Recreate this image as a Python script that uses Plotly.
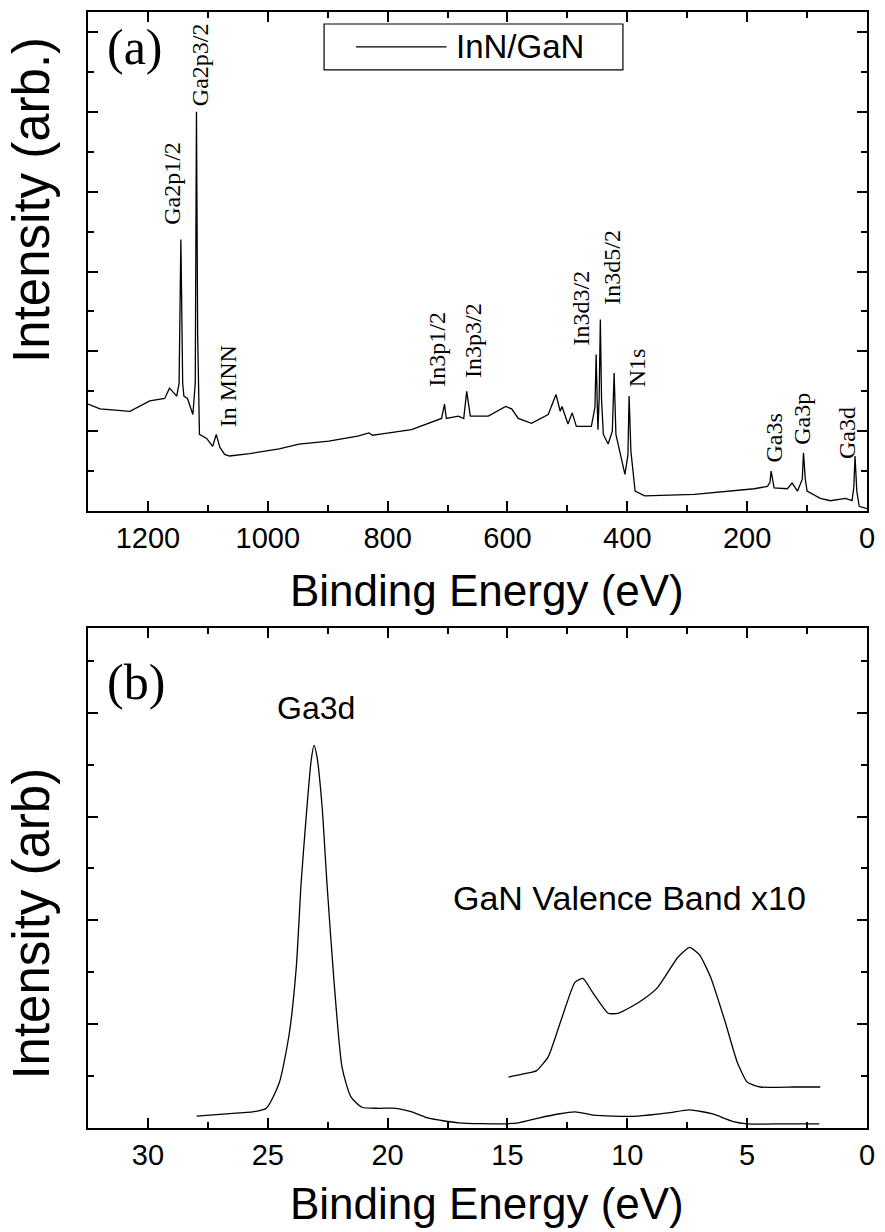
import plotly.graph_objects as go

# ---------------- data: panel (a) survey spectrum ----------------
survey_energy = [1300, 1280, 1230, 1197, 1172, 1164, 1152, 1148, 1145, 1142, 1140, 1134, 1125, 1121,
                 1119, 1117, 1114, 1102, 1092, 1086, 1080, 1072, 1064, 1030, 981, 948, 898, 850, 831,
                 825, 815, 760, 710, 705, 702, 682, 673, 668, 662, 632, 603, 593, 582, 560, 532,
                 519, 512, 509, 499, 492, 485, 460, 454, 452, 450, 449, 447, 445, 443, 440, 432,
                 425, 422, 419, 404, 399, 397, 394, 387, 371, 288, 188, 166, 162, 160, 157, 155,
                 133, 125, 116, 108, 106, 103, 100, 78, 61, 36, 25, 22, 20, 17, 13, 3, 0]
survey_intensity = [1.34, 1.28, 1.25, 1.38, 1.41, 1.54, 1.44, 1.60, 3.40, 1.60, 1.44, 1.41, 1.21, 1.60,
                    5.00, 2.20, 0.96, 0.91, 0.81, 0.96, 0.80, 0.71, 0.69, 0.72, 0.78, 0.84, 0.875, 0.94, 0.98,
                    0.95, 0.96, 1.02, 1.16, 1.34, 1.16, 1.19, 1.16, 1.50, 1.19, 1.19, 1.31, 1.28, 1.16, 1.10, 1.21,
                    1.46, 1.25, 1.31, 1.09, 1.23, 1.06, 1.06, 1.30, 1.96, 1.30, 1.02, 1.40, 2.40, 1.40, 0.96, 0.84,
                    1.00, 1.73, 0.96, 0.46, 0.70, 1.44, 0.75, 0.25, 0.19, 0.21, 0.28, 0.31, 0.36, 0.50, 0.36, 0.29,
                    0.28, 0.35, 0.25, 0.40, 0.73, 0.40, 0.25, 0.16, 0.13, 0.16, 0.13, 0.30, 0.69, 0.25, 0.06, 0.04, 0.03]

# ---------------- data: panel (b) Ga3d + valence band ----------------
ga3d_energy = [27.97, 26.18, 25.64, 25.06, 24.52, 24.10, 23.81, 23.61, 23.40, 23.19, 23.07, 22.94,
               22.73, 22.53, 22.23, 21.90, 21.53, 21.07, 20.36, 19.66, 18.99, 18.29, 17.04, 15.17,
               14.54, 13.71, 12.88, 12.18, 11.43, 10.60, 9.56, 8.31, 7.40, 6.44, 5.61, 4.99, 3.32, 1.99]
ga3d_intensity = [0.23, 0.29, 0.31, 0.38, 0.87, 1.83, 3.10, 4.71, 5.98, 7.08, 7.37, 7.13,
                  6.17, 4.71, 2.79, 1.17, 0.60, 0.40, 0.38, 0.38, 0.31, 0.19, 0.10, 0.08,
                  0.10, 0.19, 0.27, 0.31, 0.25, 0.23, 0.23, 0.29, 0.35, 0.27, 0.13, 0.08, 0.08, 0.08]

vb_energy = [14.96, 14.13, 13.80, 13.30, 12.76, 12.18, 11.84, 11.43, 10.80, 10.39, 9.85, 9.27,
             8.73, 7.89, 7.40, 6.98, 6.52, 5.94, 5.40, 4.99, 4.45, 3.03, 1.95]
vb_intensity = [0.98, 1.06, 1.10, 1.37, 2.08, 2.81, 2.88, 2.60, 2.21, 2.21, 2.33, 2.50,
                2.71, 3.29, 3.48, 3.33, 2.90, 2.08, 1.25, 0.88, 0.79, 0.79, 0.79]

# ---------------- peak labels (panel a) ----------------
peak_names = ["Ga2p1/2", "Ga2p3/2", "In MNN", "In3p1/2", "In3p3/2", "In3d3/2",
              "In3d5/2", "N1s", "Ga3s", "Ga3p", "Ga3d"]
peak_label_x = [1160, 1114, 1067, 718, 658, 477, 427, 384, 155, 108, 33]
peak_label_y = [4.11, 5.59, 1.56, 2.03, 2.14, 2.54, 3.05, 1.80, 0.91, 1.16, 0.98]

top_ticks = [1200, 1000, 800, 600, 400, 200, 0]
bot_ticks = [30, 25, 20, 15, 10, 5, 0]

SANS = "Liberation Sans, Arial, sans-serif"
SERIF = "Liberation Serif, Times New Roman, serif"

W, H = 885, 1232
L, R, T, B = 88, 15, 10, 104
PW, PH = W - L - R, H - T - B


def px(xpix):
    return (xpix - L) / PW


def py(ypix):
    return (H - B - ypix) / PH


fig = go.Figure()
fig.add_trace(go.Scatter(x=survey_energy, y=survey_intensity, mode="lines",
                         line=dict(color="black", width=1.3), name="InN/GaN",
                         xaxis="x", yaxis="y", showlegend=False))
fig.add_trace(go.Scatter(x=ga3d_energy, y=ga3d_intensity, mode="lines",
                         line=dict(color="black", width=1.3, shape="spline", smoothing=0.6),
                         name="Ga3d", xaxis="x2", yaxis="y2", showlegend=False))
fig.add_trace(go.Scatter(x=vb_energy, y=vb_intensity, mode="lines",
                         line=dict(color="black", width=1.3, shape="spline", smoothing=0.5),
                         name="GaN Valence Band x10",
                         xaxis="x2", yaxis="y2", showlegend=False))

axis_common = dict(showline=True, linewidth=2, linecolor="black", mirror="allticks",
                   ticks="inside", ticklen=10, tickwidth=2, tickcolor="black",
                   showgrid=False, zeroline=False)
minor_common = dict(ticks="inside", ticklen=6, tickwidth=2, tickcolor="black", showgrid=False)

fig.update_layout(
    width=W, height=H,
    margin=dict(l=L, r=R, t=T, b=B),
    paper_bgcolor="white", plot_bgcolor="white",
    xaxis=dict(domain=[0, 1], range=[1300, 0], anchor="y", tickvals=top_ticks,
               ticktext=[str(v) for v in top_ticks], minor=dict(dtick=100, tick0=0, **minor_common),
               tickfont=dict(family=SANS, size=29, color="black"), ticklabelstandoff=0,
               **axis_common),
    yaxis=dict(domain=[py(510), 1], range=[0, 6.25], anchor="x", dtick=1, tick0=0,
               showticklabels=False, minor=dict(dtick=0.5, tick0=0, **minor_common),
               **axis_common),
    xaxis2=dict(domain=[0, 1], range=[32.5, 0], anchor="y2", tickvals=bot_ticks,
                ticktext=[str(v) for v in bot_ticks], minor=dict(dtick=2.5, tick0=0, **minor_common),
                tickfont=dict(family=SANS, size=29, color="black"), ticklabelstandoff=0,
                **axis_common),
    yaxis2=dict(domain=[0, py(627)], range=[0, 501 / 52], anchor="x2", dtick=2, tick0=0,
                showticklabels=False, minor=dict(dtick=1, tick0=0, **minor_common),
                **axis_common),
)


def paper_text(xp, yp, text, family, size, angle=0, xanchor="center", yanchor="middle"):
    return dict(x=px(xp), y=py(yp), xref="paper", yref="paper", text=text, showarrow=False,
                textangle=angle, xanchor=xanchor, yanchor=yanchor,
                font=dict(family=family, size=size, color="black"))


ann = []
for name, x, y in zip(peak_names, peak_label_x, peak_label_y):
    ann.append(dict(x=x, y=y, xref="x", yref="y", text=name, showarrow=False, textangle=-90,
                    font=dict(family=SERIF, size=24, color="black"),
                    xanchor="center", yanchor="middle"))

ann += [
    dict(x=22.98, y=8.10, xref="x2", yref="y2", text="Ga3d", showarrow=False,
         xanchor="center", yanchor="middle",
         font=dict(family=SANS, size=32, color="black")),
    dict(x=9.89, y=4.44, xref="x2", yref="y2", text="GaN Valence Band x10", showarrow=False,
         xanchor="center", yanchor="middle",
         font=dict(family=SANS, size=34, color="black")),
    paper_text(135, 45, "(a)", SERIF, 50),
    paper_text(136, 681, "(b)", SERIF, 50),
    paper_text(489, 590, "Binding Energy (eV)", SANS, 44),
    paper_text(489, 1204, "Binding Energy (eV)", SANS, 44),
    paper_text(31, 198, "Intensity (arb.)", SANS, 51, angle=-90),
    paper_text(31, 923, "Intensity (arb)", SANS, 51, angle=-90),
    paper_text(455, 45, "InN/GaN", SANS, 33, xanchor="left"),
]
fig.update_layout(annotations=ann)

fig.update_layout(shapes=[
    dict(type="rect", xref="paper", yref="paper", x0=px(325), x1=px(625), y0=py(68), y1=py(22),
         line=dict(color="black", width=1.2), fillcolor="white", layer="below"),
    dict(type="line", xref="paper", yref="paper", x0=px(357), x1=px(448), y0=py(45), y1=py(45),
         line=dict(color="black", width=1.3)),
])

fig.write_html("out.html")
